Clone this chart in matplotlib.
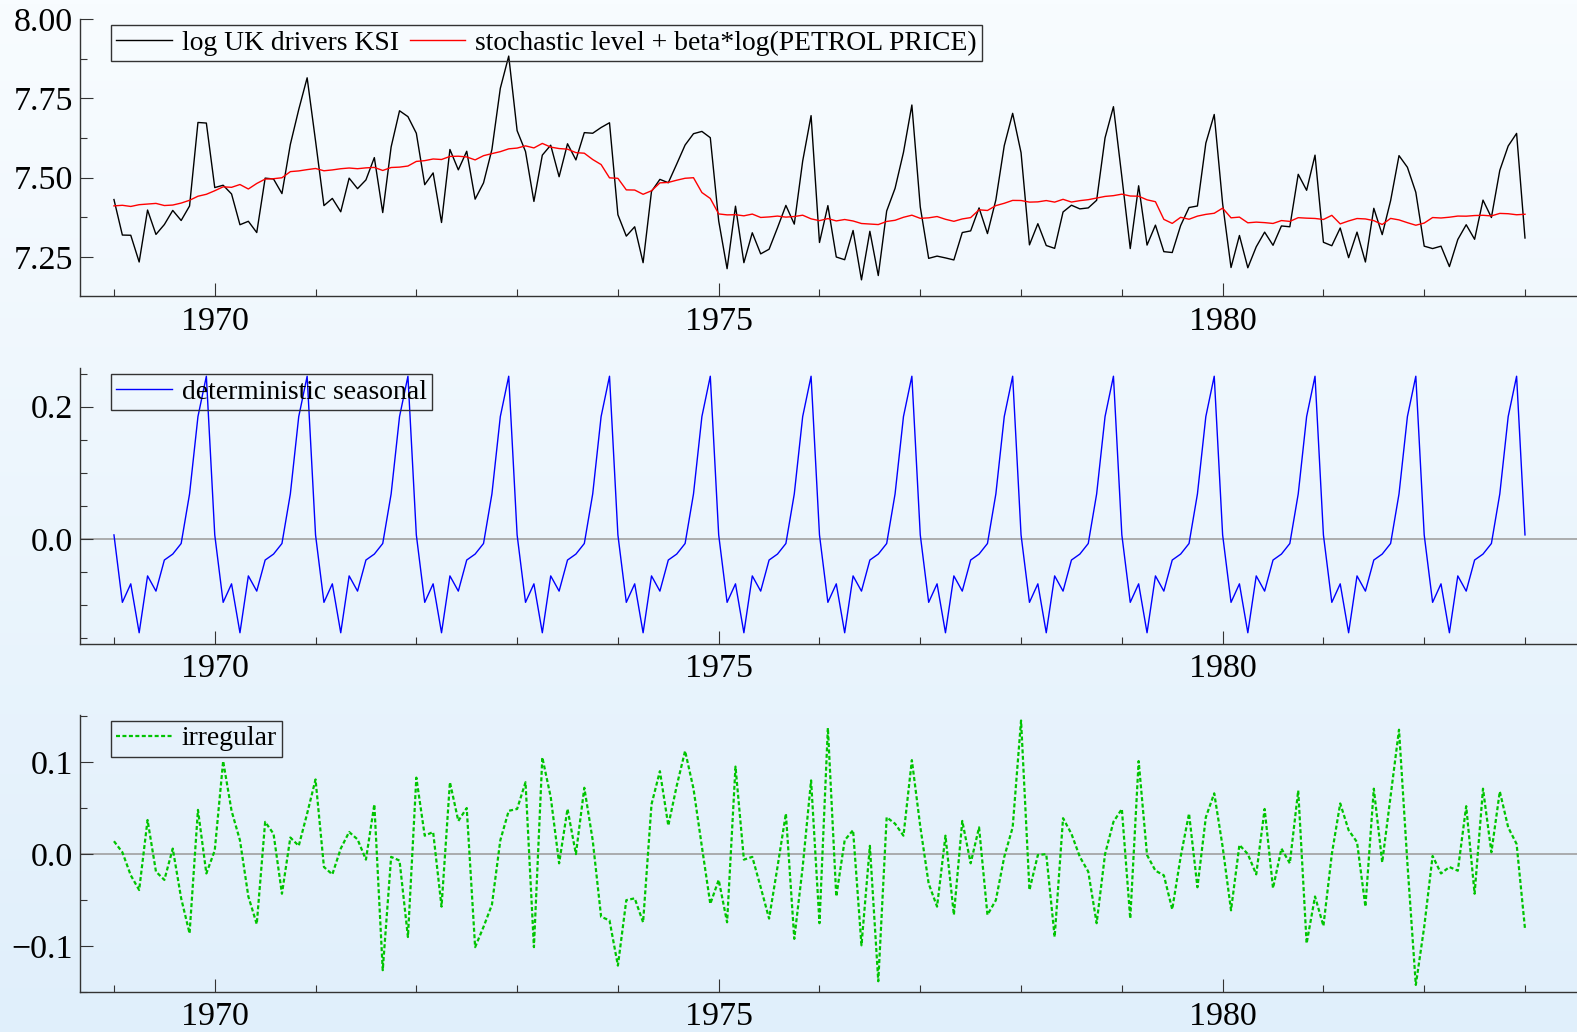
"""
UK drivers KSI decomposition (log KSI, level + petrol regression, seasonal, irregular),
three stacked panels in an OxMetrics-like style.
"""

import numpy as np
import matplotlib.pyplot as plt
from matplotlib.ticker import MultipleLocator, FuncFormatter

# ------- data (monthly, Jan 1969 .. Jan 1983) -------
start_year = 1969

ksi = [
    1687, 1508, 1507, 1385, 1632, 1511, 1559, 1630, 1579, 1653, 2152, 2148,
    1752, 1765, 1717, 1558, 1575, 1520, 1805, 1800, 1719, 2008, 2242, 2478,
    2030, 1655, 1693, 1623, 1805, 1746, 1795, 1926, 1619, 1992, 2233, 2192,
    2080, 1768, 1835, 1569, 1976, 1853, 1965, 1689, 1778, 1976, 2397, 2654,
    2097, 1963, 1677, 1941, 2003, 1813, 2012, 1912, 2084, 2080, 2118, 2150,
    1608, 1503, 1548, 1382, 1731, 1798, 1779, 1887, 2004, 2077, 2092, 2051,
    1577, 1356, 1652, 1382, 1519, 1421, 1442, 1543, 1656, 1561, 1905, 2199,
    1473, 1655, 1407, 1395, 1530, 1309, 1526, 1327, 1627, 1748, 1958, 2274,
    1648, 1401, 1411, 1403, 1394, 1520, 1528, 1643, 1515, 1685, 2000, 2215,
    1956, 1462, 1563, 1459, 1446, 1622, 1657, 1638, 1643, 1683, 2050, 2262,
    1813, 1445, 1762, 1461, 1556, 1431, 1427, 1554, 1645, 1653, 2016, 2207,
    1665, 1361, 1506, 1360, 1453, 1522, 1460, 1552, 1548, 1827, 1737, 1941,
    1474, 1458, 1542, 1404, 1522, 1385, 1641, 1510, 1681, 1938, 1868, 1726,
    1456, 1445, 1456, 1365, 1487, 1558, 1488, 1684, 1594, 1850, 1998, 2079,
    1494,
]

# deterministic seasonal, Jan..Dec
seasonal_pattern = [0.006, -0.096, -0.068, -0.142, -0.056, -0.079,
                    -0.032, -0.023, -0.007, 0.068, 0.185, 0.246]

irregular = [
    0.014, 0.002, -0.023, -0.039, 0.037, -0.019, -0.028, 0.006, -0.048, -0.086, 0.048, -0.021,
    0.004, 0.101, 0.047, 0.015, -0.046, -0.076, 0.035, 0.022, -0.043, 0.018, 0.009, 0.044,
    0.081, -0.014, -0.022, 0.006, 0.024, 0.016, -0.006, 0.054, -0.126, -0.003, -0.007, -0.090,
    0.083, 0.020, 0.024, -0.057, 0.078, 0.036, 0.050, -0.101, -0.079, -0.055, 0.015, 0.047,
    0.049, 0.078, -0.101, 0.105, 0.062, -0.010, 0.049, 0.000, 0.072, 0.015, -0.068, -0.072,
    -0.121, -0.050, -0.048, -0.074, 0.054, 0.090, 0.031, 0.074, 0.112, 0.071, 0.008, -0.054,
    -0.028, -0.074, 0.095, -0.006, -0.003, -0.036, -0.070, -0.014, 0.044, -0.092, -0.014, 0.080,
    -0.075, 0.137, -0.046, 0.015, 0.026, -0.099, 0.009, -0.138, 0.040, 0.033, 0.020, 0.102,
    0.030, -0.032, -0.057, 0.020, -0.066, 0.036, -0.010, 0.029, -0.066, -0.050, -0.003, 0.029,
    0.145, -0.039, -0.001, 0.000, -0.090, 0.039, 0.022, -0.003, -0.019, -0.075, 0.000, 0.035,
    0.049, -0.070, 0.101, -0.001, -0.018, -0.023, -0.060, -0.003, 0.044, -0.036, 0.040, 0.066,
    0.008, -0.061, 0.010, 0.000, -0.022, 0.049, -0.037, 0.006, -0.010, 0.069, -0.097, -0.046,
    -0.078, 0.000, 0.055, 0.026, 0.013, -0.057, 0.071, -0.009, 0.063, 0.135, -0.010, -0.142,
    -0.079, -0.002, -0.021, -0.014, -0.018, 0.052, -0.043, 0.071, 0.002, 0.068, 0.029, 0.011,
    -0.081,
]

labels_top = ["log UK drivers KSI", "stochastic level + beta*log(PETROL PRICE)"]
label_mid = "deterministic seasonal"
label_bot = "irregular"

# ------- derived series -------
n = len(ksi)
t = start_year + np.arange(n) / 12.0
log_ksi = np.log(np.array(ksi, dtype=float))
seasonal = np.tile(seasonal_pattern, n // 12 + 1)[:n]
irr = np.array(irregular)
level_reg = log_ksi - seasonal - irr   # components add up to the data

# ------- style -------
SERIF = ["Liberation Serif", "DejaVu Serif"]
plt.rcParams["font.family"] = SERIF
TICK_FS = 24.5
LEG_FS = 19.9
SPINE = "#333333"

W, H = 1577, 1032
fig = plt.figure(figsize=(W / 100, H / 100), dpi=100)

# background gradient
bg = fig.add_axes([0, 0, 1, 1], zorder=-10)
top_c = np.array([248, 252, 255]) / 255.0
bot_c = np.array([224, 239, 251]) / 255.0
g = np.linspace(0, 1, 256)[:, None]
grad = top_c[None, :] * (1 - g) + bot_c[None, :] * g
bg.imshow(grad[:, None, :], aspect="auto", extent=[0, 1, 0, 1], origin="upper")
bg.set_axis_off()

x_left = 80 / W
x_w = 1 - x_left
xlim = (1968.663, 1983.516)


def minus_fmt(fmt):
    return FuncFormatter(lambda v, p: (fmt % v).replace("-", "\u2212"))


def style_axes(ax, ylim, ymaj, ymin, yfmt, xpad=6.5):
    ax.set_facecolor("none")
    ax.set_xlim(*xlim)
    ax.set_ylim(*ylim)
    for s in ("top", "right"):
        ax.spines[s].set_visible(False)
    for s in ("left", "bottom"):
        ax.spines[s].set_color(SPINE)
        ax.spines[s].set_linewidth(1.0)
    ax.xaxis.set_major_locator(MultipleLocator(5))
    ax.xaxis.set_minor_locator(MultipleLocator(1))
    ax.xaxis.set_major_formatter(FuncFormatter(lambda v, p: "%d" % round(v)))
    ax.yaxis.set_major_locator(MultipleLocator(ymaj))
    ax.yaxis.set_minor_locator(MultipleLocator(ymin))
    ax.yaxis.set_major_formatter(minus_fmt(yfmt))
    ax.tick_params(which="both", direction="in", color=SPINE, width=0.8,
                   top=False, right=False, labelsize=TICK_FS)
    ax.tick_params(which="major", length=9.5)
    ax.tick_params(which="minor", length=5)
    ax.tick_params(axis="x", pad=xpad)
    ax.tick_params(axis="y", pad=5)


def add_legend(ax, ncol=1):
    ax_h = ax.get_position().height * H
    ax_w = ax.get_position().width * W
    leg = ax.legend(loc="upper left", bbox_to_anchor=(30.7 / ax_w, 1 - 5.5 / ax_h),
                    borderaxespad=0, ncol=ncol, prop={"family": SERIF, "size": LEG_FS},
                    handlelength=2.0, handletextpad=0.37, borderpad=0.2,
                    columnspacing=0.4, fancybox=False, framealpha=1)
    fr = leg.get_frame()
    fr.set_facecolor("none")
    fr.set_edgecolor(SPINE)
    fr.set_linewidth(1.0)
    return leg


# ------- panel 1: data and level + regression -------
ax1 = fig.add_axes([x_left, 1 - 295.7 / H, x_w, (295.7 - 19.3) / H])
ax1.plot(t, log_ksi, color="black", lw=1.0, label=labels_top[0])
ax1.plot(t, level_reg, color="#ff0000", lw=1.0, label=labels_top[1])
style_axes(ax1, (7.127, 8.0), 0.25, 0.125, "%.2f", xpad=8)
add_legend(ax1, ncol=2)

# ------- panel 2: seasonal -------
ax2 = fig.add_axes([x_left, 1 - 644.0 / H, x_w, (644.0 - 368.3) / H])
ax2.axhline(0, color="#a0a0a0", lw=1.2, zorder=1)
ax2.plot(t, seasonal, color="#0000ff", lw=1.0, label=label_mid, zorder=2)
style_axes(ax2, (-0.159, 0.258), 0.2, 0.05, "%.1f")
add_legend(ax2)

# ------- panel 3: irregular -------
ax3 = fig.add_axes([x_left, 1 - 992.3 / H, x_w, (992.3 - 715.0) / H])
ax3.axhline(0, color="#a0a0a0", lw=1.2, zorder=1)
ax3.plot(t, irr, color="#00c400", lw=1.6, linestyle=(0, (1.8, 1.1)),
         label=label_bot, zorder=2)
style_axes(ax3, (-0.150, 0.151), 0.1, 0.05, "%.1f")
add_legend(ax3)

fig.savefig("out.png", dpi=100)
